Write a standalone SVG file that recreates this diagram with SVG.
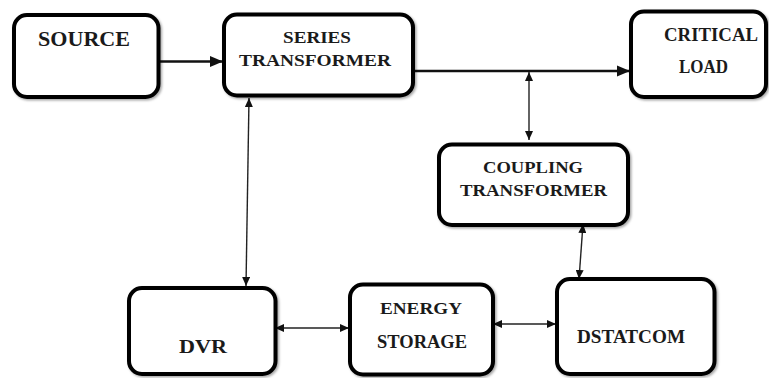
<svg xmlns="http://www.w3.org/2000/svg" width="769" height="378" viewBox="0 0 769 378">
  <style>
    .box { fill: #fff; stroke: #000; stroke-width: 4; filter: url(#sh); }
    .main { stroke: #111; stroke-width: 2.4; fill: none; }
    .thin { stroke: #222; stroke-width: 1.4; fill: none; }
  </style>
  <defs>
    <filter id="sh" x="-10%" y="-10%" width="130%" height="130%">
      <feDropShadow dx="1.5" dy="1.5" stdDeviation="1" flood-color="#000" flood-opacity="0.35"/>
    </filter>
    <marker id="big" markerUnits="userSpaceOnUse" markerWidth="14" markerHeight="12" refX="13" refY="6" orient="auto">
      <path d="M0,0.5 L13,6 L0,11.5 Z" fill="#111"/>
    </marker>
    <marker id="sm" markerUnits="userSpaceOnUse" markerWidth="10" markerHeight="8" refX="9" refY="4" orient="auto-start-reverse">
      <path d="M0,0 L9,4 L0,8 Z" fill="#111"/>
    </marker>
  </defs>
  <rect width="769" height="378" fill="#fff"/>

  <g id="connectors">
    <line class="main" x1="159" y1="61.5" x2="223" y2="61.5" marker-end="url(#big)"/>
    <line class="main" x1="413" y1="71" x2="630" y2="71" marker-end="url(#big)"/>
    <line class="thin" x1="529" y1="72" x2="529" y2="140" marker-start="url(#sm)" marker-end="url(#sm)"/>
    <line class="thin" x1="249" y1="98" x2="246" y2="286" marker-start="url(#sm)" marker-end="url(#sm)"/>
    <line class="thin" x1="583" y1="224" x2="579" y2="279" marker-start="url(#sm)" marker-end="url(#sm)"/>
    <line class="thin" x1="275" y1="328" x2="349" y2="328" marker-start="url(#sm)" marker-end="url(#sm)"/>
    <line class="thin" x1="493" y1="324" x2="556" y2="324" marker-start="url(#sm)" marker-end="url(#sm)"/>
  </g>

  <g font-family="Liberation Serif, DejaVu Serif, serif" font-weight="bold" fill="#1a1a1a" text-anchor="middle">
  <g id="source">
    <rect class="box" x="14" y="15" width="144.5" height="82" rx="13"/>
    <text x="84" y="46" font-size="20" textLength="92" lengthAdjust="spacingAndGlyphs">SOURCE</text>
  </g>
  <g id="series-transformer">
    <rect class="box" x="224" y="14.5" width="189" height="81" rx="13"/>
    <text x="317" y="43" font-size="17.5" textLength="68" lengthAdjust="spacingAndGlyphs">SERIES</text>
    <text x="315" y="66" font-size="17.5" textLength="152" lengthAdjust="spacingAndGlyphs">TRANSFORMER</text>
  </g>
  <g id="critical-load">
    <rect class="box" x="631" y="11.5" width="135" height="85.5" rx="13"/>
    <text x="711" y="41" font-size="18.5" textLength="94" lengthAdjust="spacingAndGlyphs">CRITICAL</text>
    <text x="703.5" y="73" font-size="18.5" textLength="49" lengthAdjust="spacingAndGlyphs">LOAD</text>
  </g>
  <g id="coupling-transformer">
    <rect class="box" x="439" y="144.5" width="189" height="80.5" rx="13"/>
    <text x="533" y="173" font-size="17.5" textLength="100" lengthAdjust="spacingAndGlyphs">COUPLING</text>
    <text x="533.5" y="196" font-size="17.5" textLength="147" lengthAdjust="spacingAndGlyphs">TRANSFORMER</text>
  </g>
  <g id="dvr">
    <rect class="box" x="129" y="288" width="146.5" height="86" rx="13"/>
    <text x="203" y="353" font-size="19.5" textLength="48" lengthAdjust="spacingAndGlyphs">DVR</text>
  </g>
  <g id="energy-storage">
    <rect class="box" x="350" y="284.5" width="143" height="90" rx="13"/>
    <text x="421" y="314" font-size="17" textLength="82" lengthAdjust="spacingAndGlyphs">ENERGY</text>
    <text x="422" y="348" font-size="18.5" textLength="90" lengthAdjust="spacingAndGlyphs">STORAGE</text>
  </g>
  <g id="dstatcom">
    <rect class="box" x="557" y="279" width="157.5" height="95" rx="13"/>
    <text x="631" y="343" font-size="18.5" textLength="108" lengthAdjust="spacingAndGlyphs">DSTATCOM</text>
  </g>
  </g>
</svg>
